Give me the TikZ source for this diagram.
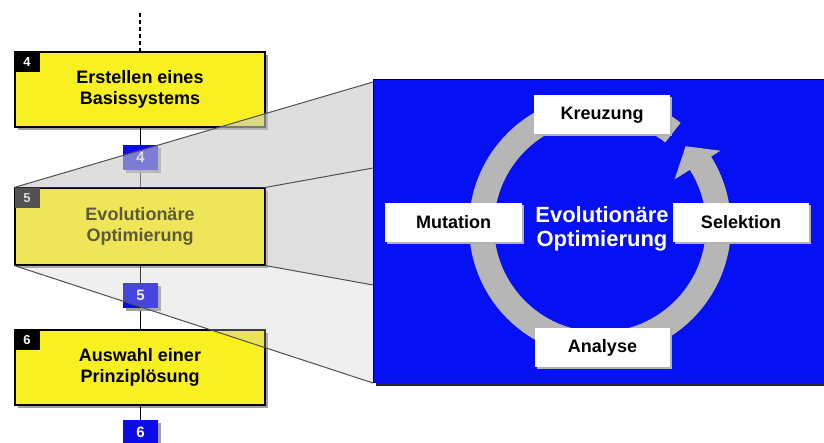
\documentclass[tikz,border=0pt]{standalone}
\usepackage{fontspec}
\setmainfont{Liberation Sans}
\usetikzlibrary{shadows}

\definecolor{stepyellow}{RGB}{248,240,32}
\definecolor{paleyellow}{RGB}{238,230,88}
\definecolor{paletext}{RGB}{92,90,56}
\definecolor{markblue}{RGB}{12,12,232}
\definecolor{panelblue}{RGB}{6,16,244}
\definecolor{ringgray}{RGB}{182,182,182}
\definecolor{funnelline}{RGB}{80,80,80}
\definecolor{funnelface}{RGB}{200,200,200}
\definecolor{funnellow}{RGB}{205,205,205}

\tikzset{
  stepbox/.style={draw=black, line width=1.2pt, fill=stepyellow,
    minimum width=250pt, minimum height=75pt, inner sep=0pt, align=center,
    font=\bfseries\fontsize{18}{21}\selectfont,
    drop shadow={shadow xshift=3pt, shadow yshift=-3pt, fill=gray!75, opacity=1}},
  numtag/.style={fill=black, text=white, minimum width=25pt, minimum height=20pt,
    inner sep=0pt, anchor=north west, font=\bfseries\fontsize{13}{15}\selectfont},
  marker/.style={fill=markblue, text=white, minimum width=35pt, minimum height=25pt,
    inner sep=0pt, font=\bfseries\fontsize{15}{18}\selectfont,
    drop shadow={shadow xshift=3pt, shadow yshift=-3pt, fill=gray!75, opacity=1}},
  phase/.style={fill=white, minimum width=136pt, minimum height=39pt, inner sep=0pt,
    font=\bfseries\fontsize{18}{21}\selectfont,
    drop shadow={shadow xshift=2pt, shadow yshift=-2pt, fill=gray!60, opacity=1}},
  flow/.style={draw=black, line width=1pt},
  funnel/.style={draw=funnelline, line width=1pt}
}

\begin{document}
\begin{tikzpicture}[x=1pt, y=-1pt]
\clip (0,0) rectangle (824,443);
\fill[white] (0,0) rectangle (824,443);

% centres of the process chain
\coordinate (dashtop) at (140,13);
\coordinate (c4) at (140,89.5);
\coordinate (c5) at (140,226.5);
\coordinate (c6) at (140,367.5);

% process chain on the left
\node[stepbox] (b4) at (c4) {Erstellen eines\\Basissystems};
\node[stepbox, fill=paleyellow, text=paletext, minimum height=77pt] (b5) at (c5) {Evolutionäre\\Optimierung};
\node[stepbox] (b6) at (c6) {Auswahl einer\\Prinziplösung};
\coordinate (m4c) at (140.5,157.5);
\coordinate (m5c) at (140.5,295.5);
\coordinate (m6c) at (140.5,432.5);
\draw[flow, dash pattern=on 4pt off 3pt, line width=1.4pt] (dashtop) -- (b4.north);
\draw[flow] (b4.south) -- (b5.north);
\draw[flow] (b5.south) -- (b6.north);
\draw[flow] (b6.south) -- (140,443);
\node[marker] (m4) at (m4c) {4};
\node[marker] (m5) at (m5c) {5};
\node[marker] (m6) at (m6c) {6};
\node[numtag] (t4) at (b4.north west) {4};
\node[numtag, fill=black!68, text=black!15] (t5) at (b5.north west) {5};
\node[numtag] (t6) at (b6.north west) {6};

% magnifying funnel from step 5 to the detail panel
\coordinate (pTL) at (373,82);
\coordinate (pTR) at (373,168);
\coordinate (pBR) at (373,285);
\coordinate (pBL) at (373,383);
\fill[funnelface, opacity=0.6] (b5.north west) -- (pTL) -- (pTR) -- (b5.north east) -- cycle;
\fill[funnelface, opacity=0.58] (b5.north east) -- (pTR) -- (pBR) -- (b5.south east) -- cycle;
\fill[funnellow, opacity=0.3] (b5.south west) -- (b5.south east) -- (pBR) -- (pBL) -- cycle;
\draw[funnel] (b5.north west) -- (pTL);
\draw[funnel] (b5.north east) -- (pTR);
\draw[funnel] (b5.south east) -- (pBR);
\draw[funnel] (b5.south west) -- (pBL);

% detail panel
\fill[black!85] (376,83) rectangle (824,386);
\fill[panelblue] (373,80) rectangle (824,383);
\draw[black, line width=1pt] (824,80) -- (373,80) -- (373,383);

% circular arrow of the evolution cycle
\begin{scope}[shift={(600,226)}]
\fill[ringgray] (52:131pt) arc[start angle=52, end angle=392, radius=131pt]
  -- (32:142pt) -- (43:117pt) -- (32:88pt) -- (32:106pt)
  arc[start angle=392, end angle=52, radius=106pt] -- cycle;
\end{scope}

\node[phase] (kreuz) at (602,115) {Kreuzung};
\node[phase, minimum width=137pt] (mut) at (453.5,222.5) {Mutation};
\node[phase] (sel) at (741,222.5) {Selektion};
\node[phase, minimum width=135pt] (ana) at (602.5,347.5) {Analyse};
\node[text=white, align=center, font=\bfseries\fontsize{22}{24}\selectfont] (evo) at (602,229) {Evolutionäre\\Optimierung};
\end{tikzpicture}
\end{document}
